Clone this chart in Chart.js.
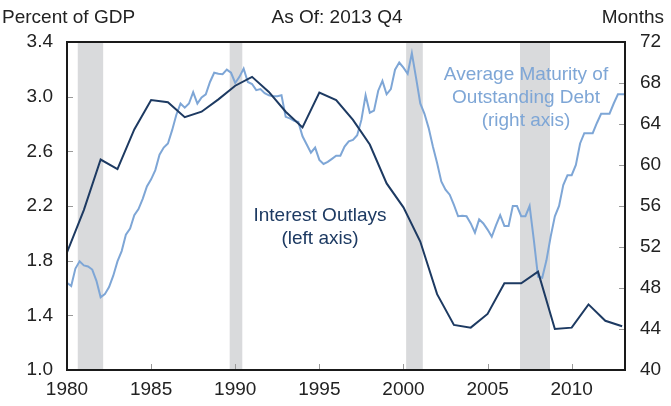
<!DOCTYPE html>
<html>
<head>
<meta charset="utf-8">
<script src="https://cdn.jsdelivr.net/npm/chart.js@4.4.1/dist/chart.umd.min.js"></script>
<style>
  body { margin: 0; background: #fff; }
  #wrap { width: 671px; height: 406px; }
</style>
</head>
<body>
<div id="wrap"><canvas id="chart" width="671" height="406"></canvas></div>
<script>
// interest outlays, percent of GDP (left axis), annual
const outlayYears = [1980, 1981, 1982, 1983, 1984, 1985, 1986, 1987, 1988, 1989,
  1990, 1991, 1992, 1993, 1994, 1995, 1996, 1997, 1998, 1999,
  2000, 2001, 2002, 2003, 2004, 2005, 2006, 2007, 2008, 2009,
  2010, 2011, 2012, 2013];
const outlayValues = [1.86, 2.17, 2.54, 2.47, 2.76, 2.975, 2.96, 2.85, 2.89, 2.98,
  3.08, 3.145, 3.035, 2.89, 2.775, 3.03, 2.975, 2.83, 2.65, 2.365,
  2.19, 1.94, 1.555, 1.33, 1.31, 1.41, 1.635, 1.635, 1.72, 1.30,
  1.31, 1.48, 1.36, 1.32];

// average maturity of outstanding debt, months (right axis), quarterly from 1980 Q1
const maturityStart = 1980;
const maturityValues = [
  48.5, 48.2, 49.9, 50.6,   50.2, 50.1, 49.8, 48.7,   47.1, 47.4, 48.1, 49.2,
  50.6, 51.6, 53.2, 53.8,   55.1, 55.7, 56.7, 57.9,   58.6, 59.5, 61.0, 61.7,
  62.1, 63.4, 64.9, 66.0,   65.6, 66.0, 67.1, 66.0,   66.6, 66.9, 68.1, 69.0,
  68.9, 68.85, 69.3, 69.0,  68.0, 68.6, 69.4, 68.1,   67.9, 67.3, 67.4, 67.0,
  66.8, 66.7, 66.7, 66.8,   64.7, 64.55, 64.3, 64.2,  62.8, 62.0, 61.2, 61.7,
  60.5, 60.1, 60.3, 60.6,   60.9, 60.9, 61.8, 62.3,   62.45, 62.9, 64.4, 66.8,
  65.1, 65.3, 67.25, 68.2,  66.9, 67.4, 69.3, 70.0,   69.5, 68.9, 70.9, 68.5,
  66.0, 65.0, 63.6, 61.8,   60.2, 58.4, 57.6, 57.1,   56.1, 55.0, 55.05, 55.0,
  54.3, 53.4, 54.7, 54.3,   53.7, 53.0, 54.1, 55.1,   54.05, 54.05, 56.0, 56.0,
  55.0, 55.0, 56.0, 52.7,   49.1, 49.0, 50.7, 53.0,   55.0, 56.0, 58.05, 59.0,
  59.0, 60.0, 62.1, 63.1,   63.1, 63.1, 64.1, 65.0,   65.0, 65.0, 66.0, 66.9,
  66.9, 66.9
];

// shaded periods [from, to]
const recessions = [[1980.64, 1982.15], [1989.67, 1990.42], [2000.16, 2001.15], [2006.93, 2008.71]];

const leftTicks = [1.0, 1.4, 1.8, 2.2, 2.6, 3.0, 3.4];
const rightTicks = [40, 44, 48, 52, 56, 60, 64, 68, 72];
const yearTicks = [1980, 1985, 1990, 1995, 2000, 2005, 2010];

const NAVY = '#1d3a62';
const LIGHT = '#7ea6d6';
const FONT = '"Liberation Sans", Arial, Helvetica, sans-serif';

const outlayData = outlayYears.map((yr, i) => ({ x: yr, y: outlayValues[i] }));
const maturityData = maturityValues.map((v, i) => ({ x: maturityStart + i / 4, y: v }));

const decor = {
  id: 'decor',
  beforeDatasetsDraw(chart) {
    const { ctx, chartArea: a, scales } = chart;
    ctx.save();
    ctx.fillStyle = '#d9dadc';
    recessions.forEach(r => {
      const x0 = scales.x.getPixelForValue(r[0]);
      const x1 = scales.x.getPixelForValue(r[1]);
      ctx.fillRect(x0, a.top, x1 - x0, a.bottom - a.top);
    });
    ctx.restore();
  },
  afterDatasetsDraw(chart) {
    const { ctx, chartArea: a, scales } = chart;
    ctx.save();
    // inner tick marks
    ctx.strokeStyle = '#9a9a9a';
    ctx.lineWidth = 1;
    ctx.beginPath();
    leftTicks.forEach(v => {
      const y = Math.round(scales.y.getPixelForValue(v)) + 0.5;
      ctx.moveTo(a.left, y); ctx.lineTo(a.left + 6, y);
    });
    rightTicks.forEach(v => {
      const y = Math.round(scales.y2.getPixelForValue(v)) + 0.5;
      ctx.moveTo(a.right, y); ctx.lineTo(a.right - 6, y);
    });
    yearTicks.forEach(v => {
      const x = Math.round(scales.x.getPixelForValue(v)) + 0.5;
      ctx.moveTo(x, a.bottom); ctx.lineTo(x, a.bottom - 6);
    });
    ctx.stroke();
    // frame
    ctx.strokeStyle = '#1a1a1a';
    ctx.lineWidth = 2;
    ctx.strokeRect(a.left, a.top, a.right - a.left, a.bottom - a.top);

    // series labels
    ctx.font = '19px ' + FONT;
    ctx.textAlign = 'center';
    ctx.textBaseline = 'alphabetic';
    ctx.fillStyle = NAVY;
    ctx.fillText('Interest Outlays', 320, 221);
    ctx.fillText('(left axis)', 320, 244);
    ctx.fillStyle = LIGHT;
    ctx.fillText('Average Maturity of', 526, 80);
    ctx.fillText('Outstanding Debt', 526, 103);
    ctx.fillText('(right axis)', 526, 126);

    // header
    ctx.font = '19px ' + FONT;
    ctx.fillStyle = '#222';
    ctx.textAlign = 'left';
    ctx.fillText('Percent of GDP', 2, 23);
    ctx.textAlign = 'center';
    ctx.fillText('As Of: 2013 Q4', 337, 23);
    ctx.textAlign = 'right';
    ctx.fillText('Months', 664, 23);
    ctx.restore();
  }
};

new Chart(document.getElementById('chart'), {
  type: 'line',
  data: {
    datasets: [
      {
        label: 'Interest Outlays',
        data: outlayData,
        yAxisID: 'y',
        borderColor: NAVY,
        borderWidth: 2,
        pointRadius: 0,
        tension: 0,
        clip: 0
      },
      {
        label: 'Average Maturity',
        data: maturityData,
        yAxisID: 'y2',
        borderColor: LIGHT,
        borderWidth: 2,
        pointRadius: 0,
        tension: 0,
        clip: 0
      }
    ]
  },
  options: {
    responsive: false,
    animation: false,
    layout: { padding: { top: 42, left: 0, right: 0, bottom: 0 } },
    plugins: {
      legend: { display: false },
      title: { display: false },
      tooltip: { enabled: false }
    },
    scales: {
      x: {
        type: 'linear',
        min: 1980,
        max: 2013.17,
        afterFit: s => { s.height = 36; },
        border: { display: false },
        grid: { display: false, drawTicks: false },
        ticks: {
          stepSize: 5,
          includeBounds: false,
          padding: 8,
          color: '#222',
          font: { family: FONT, size: 19 },
          maxRotation: 0,
          autoSkip: false,
          callback: v => String(v)
        }
      },
      y: {
        position: 'left',
        min: 1.0,
        max: 3.4,
        afterFit: s => { s.width = 67; },
        afterBuildTicks: s => { s.ticks = leftTicks.map(v => ({ value: v })); },
        border: { display: false },
        grid: { display: false, drawTicks: false },
        ticks: {
          padding: 14,
          color: '#222',
          font: { family: FONT, size: 19 },
          callback: v => v.toFixed(1)
        }
      },
      y2: {
        position: 'right',
        min: 40,
        max: 72,
        afterFit: s => { s.width = 46; },
        afterBuildTicks: s => { s.ticks = rightTicks.map(v => ({ value: v })); },
        border: { display: false },
        grid: { display: false, drawTicks: false },
        ticks: {
          padding: 15,
          color: '#222',
          font: { family: FONT, size: 19 },
          callback: v => String(v)
        }
      }
    }
  },
  plugins: [decor]
});
</script>
</body>
</html>
